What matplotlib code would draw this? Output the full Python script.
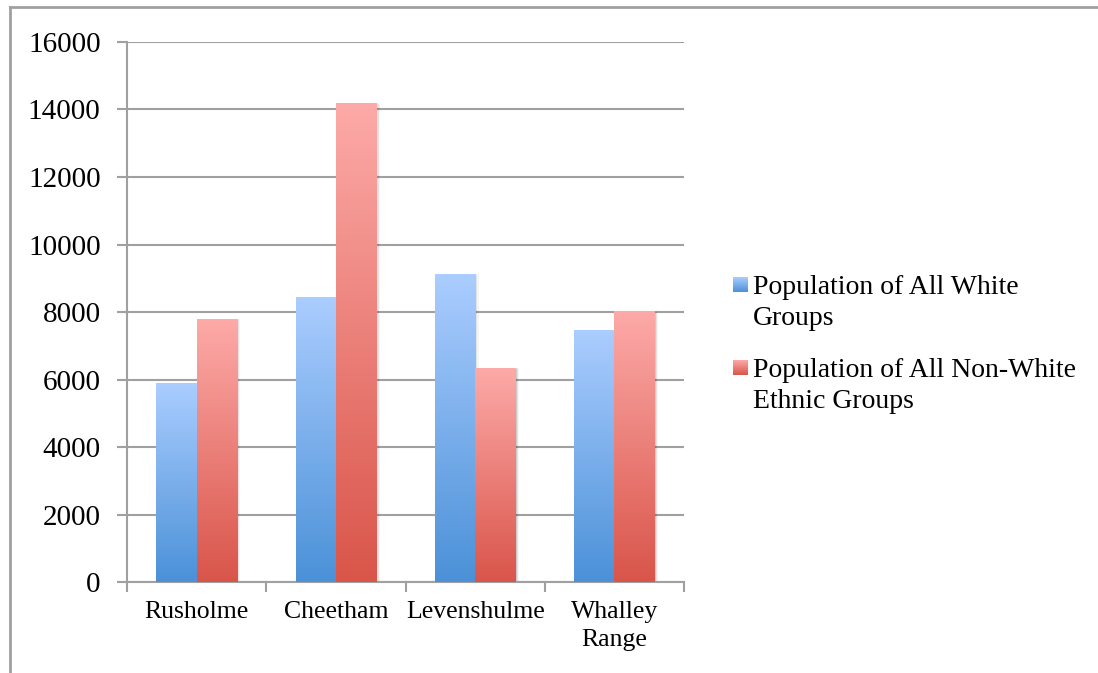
import numpy as np
from matplotlib import pyplot as plt
from matplotlib.colors import LinearSegmentedColormap
from matplotlib.patches import Rectangle
from matplotlib.lines import Line2D

wards = ['Rusholme', 'Cheetham', 'Levenshulme', 'Whalley\nRange']
white_pop = [5870, 8420, 9100, 7440]
non_white_pop = [7770, 14180, 6340, 8010]
series_names = ['Population of All White\nGroups',
                'Population of All Non-White\nEthnic Groups']
y_ticks = [0, 2000, 4000, 6000, 8000, 10000, 12000, 14000, 16000]

blue_cmap = LinearSegmentedColormap.from_list('blue', ['#4b91d8', '#abcdff'])
red_cmap = LinearSegmentedColormap.from_list('red', ['#d9554a', '#fdaaa8'])
grad = np.linspace(0, 1, 256).reshape(-1, 1)

FONT = 'Liberation Serif'
GRAY = '#a0a0a0'


def gradient_bar(ax, x0, width, height, cmap):
    # soft drop shadow
    for k, a in enumerate([0.10, 0.07, 0.04]):
        d = 0.004 * (k + 1)
        ax.add_patch(Rectangle((x0 + d, 0), width + d, height + 25 * (k + 1) - 60,
                               fc='black', ec='none', alpha=a, zorder=2))
    ax.imshow(grad, cmap=cmap, origin='lower', aspect='auto',
              extent=[x0, x0 + width, 0, height], zorder=3, interpolation='bilinear')


def plot():
    fig = plt.figure(figsize=(10.98, 6.73), dpi=100)
    ax = fig.add_axes([0.1157, 0.1352, 0.623 - 0.1157, 0.9376 - 0.1352])

    bw = 0.29
    for i in range(len(wards)):
        c = i + 0.5
        gradient_bar(ax, c - bw, bw, white_pop[i], blue_cmap)
        gradient_bar(ax, c, bw, non_white_pop[i], red_cmap)

    ax.set_xlim(0, 4)
    ax.set_ylim(0, 16000)

    ax.set_yticks(y_ticks)
    ax.set_yticklabels([str(v) for v in y_ticks], fontsize=21, fontfamily=FONT)
    ax.tick_params(axis='y', length=7, width=1.5, color=GRAY, pad=12)
    ax.yaxis.grid(True, color=GRAY, lw=1.5, zorder=1)
    ax.set_axisbelow(True)

    ax.set_xticks([0, 1, 2, 3, 4])
    ax.set_xticklabels([])
    ax.set_xticks([i + 0.5 for i in range(len(wards))], minor=True)
    ax.set_xticklabels(wards, minor=True, fontsize=18.5, fontfamily=FONT,
                       linespacing=1.3)
    ax.tick_params(axis='x', which='major', length=7, width=1.5, color=GRAY)
    ax.tick_params(axis='x', which='minor', length=0, pad=14)

    for s in ['top', 'right']:
        ax.spines[s].set_visible(False)
    for s in ['left', 'bottom']:
        ax.spines[s].set_color(GRAY)
        ax.spines[s].set_linewidth(1.5)

    # legend
    fig_w, fig_h = 1098, 673
    entries = [(blue_cmap, 277, series_names[0]), (red_cmap, 360, series_names[1])]
    for cmap, top, name in entries:
        sq = fig.add_axes([733 / fig_w, 1 - (top + 15) / fig_h, 15 / fig_w, 15 / fig_h])
        sq.imshow(grad, cmap=cmap, origin='lower', aspect='auto')
        sq.axis('off')
        fig.text(753 / fig_w, 1 - (top - 2) / fig_h, name, fontsize=20,
                 fontfamily=FONT, va='top', ha='left', linespacing=1.3)

    # chart frame
    fig.add_artist(Line2D([10 / fig_w, 1], [1 - 7 / fig_h, 1 - 7 / fig_h],
                          color=GRAY, lw=2, transform=fig.transFigure))
    fig.add_artist(Line2D([10 / fig_w, 10 / fig_w], [0, 1 - 7 / fig_h],
                          color=GRAY, lw=2, transform=fig.transFigure))

    plt.savefig('out.png', dpi=100)
    plt.close()


if __name__ == '__main__':
    plot()
